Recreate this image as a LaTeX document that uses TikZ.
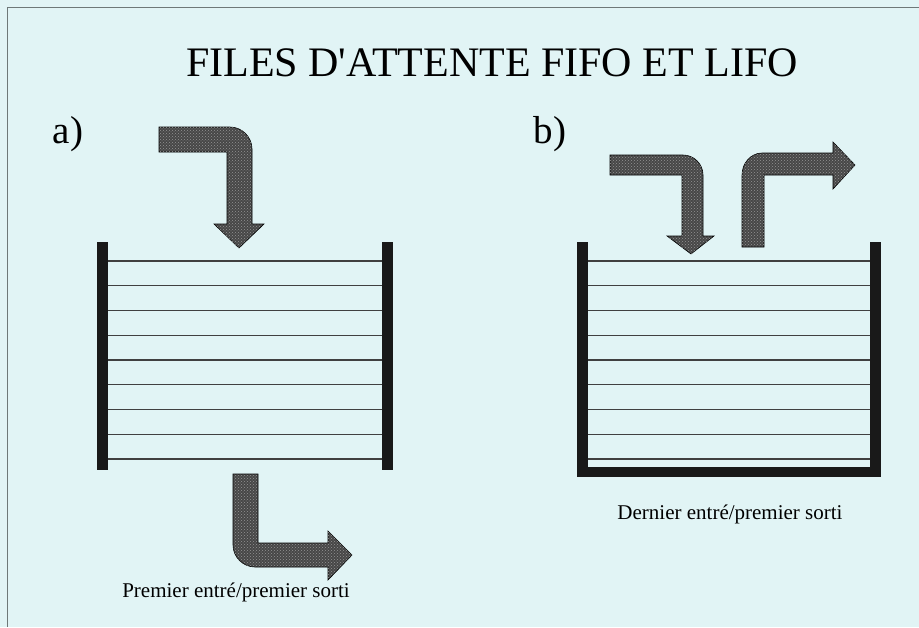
\documentclass[tikz,border=0pt]{standalone}
\usepackage{fontspec}
\setmainfont{Liberation Serif}
\definecolor{fondclair}{HTML}{E1F4F5}
\definecolor{cadre}{HTML}{6E7878}
\usepackage{tikz}
\usetikzlibrary{patterns}

\tikzset{
  fleche/.style={fill=black!72, draw=black, line width=0.6pt,
    postaction={pattern=crosshatch dots, pattern color=black!42}},
  paroi/.style={fill=black!90},
  ligne/.style={draw=black!75, line width=1.2pt},
}

\begin{document}
\begin{tikzpicture}[x=1pt, y=-1pt]
    \useasboundingbox (0,0) rectangle (919,627);
    \fill[fondclair] (0,0) rectangle (919,627);
    \draw[cadre, line width=0.8pt] (919,7) -- (7,7) -- (7,627);

    % titre et reperes
    \node[anchor=base, font=\fontsize{42}{50}\selectfont] (titre) at (492,76) {FILES D\textquotesingle ATTENTE FIFO ET LIFO};
    \node[anchor=base, font=\fontsize{39}{46}\selectfont] (repA) at (68,143) {a)};
    \node[anchor=base, font=\fontsize{39}{46}\selectfont] (repB) at (550,143) {b)};

    % a) file FIFO : deux parois
    \fill[paroi] (97,242) rectangle (108,470);
    \fill[paroi] (382,242) rectangle (393,470);
    \foreach \i in {0,...,8}{%
      \draw[ligne] (108,261+24.75*\i) -- (382,261+24.75*\i);
    }
    % entree
    \path[fleche] (159,127) -- (230,127) .. controls (242,127) and (252,137) .. (252,149)
      -- (252,224) -- (264,224) -- (239,248) -- (214,224) -- (227,224) -- (227,152) -- (159,152) -- cycle;
    % sortie
    \path[fleche] (233,474) -- (258,474) -- (258,543) -- (328,543) -- (328,531) -- (352,555)
      -- (328,580) -- (328,567) -- (255,567) .. controls (243,567) and (233,557) .. (233,545) -- cycle;
    \node[anchor=base, font=\fontsize{21}{25}\selectfont] (txtA) at (236,597) {Premier entré/premier sorti};

    % b) pile LIFO : fond ferme
    \fill[paroi] (577,242) rectangle (588,477);
    \fill[paroi] (870,242) rectangle (881,477);
    \fill[paroi] (577,467) rectangle (881,477);
    \foreach \i in {0,...,8}{%
      \draw[ligne] (588,261+24.75*\i) -- (870,261+24.75*\i);
    }
    % entree
    \path[fleche] (610,155) -- (683,155) .. controls (694,155) and (703,164) .. (703,175)
      -- (703,236) -- (714,236) -- (691,254) -- (667,236) -- (682,236) -- (682,175) -- (610,175) -- cycle;
    % sortie
    \path[fleche] (742,247) -- (742,175) .. controls (742,163) and (751,153) .. (762,153)
      -- (833,153) -- (833,142) -- (855,165) -- (833,189) -- (833,175) -- (764,175) -- (764,247) -- cycle;
    \node[anchor=base, font=\fontsize{21}{25}\selectfont] (txtB) at (730,519) {Dernier entré/premier sorti};
  \end{tikzpicture}
\end{document}
